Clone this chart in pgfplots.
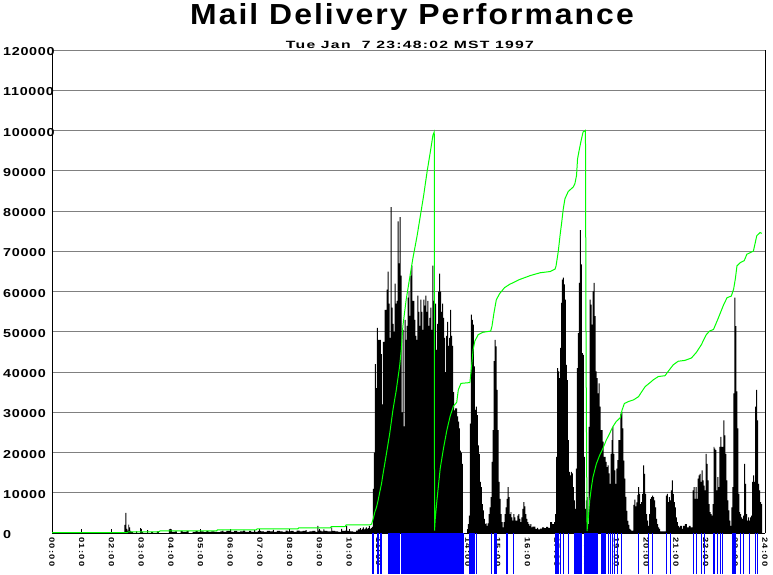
\documentclass[border=0pt]{standalone}
\usepackage{fontspec}
\setmainfont{Liberation Sans}
\newfontfamily\titlefont{Liberation Sans}[FakeStretch=1.1,LetterSpace=7]
\newfontfamily\subfont{Liberation Sans}[FakeStretch=1.5,LetterSpace=12]
\newfontfamily\yfont{Liberation Sans}[FakeStretch=1.25,LetterSpace=6]
\newfontfamily\xfont{Liberation Sans}[FakeStretch=1.25,LetterSpace=18]
\usepackage{pgfplots}
\usepackage{pgfplotstable}
\pgfplotsset{compat=1.18}
\definecolor{lgreen}{RGB}{0,255,0}
\definecolor{pblue}{RGB}{0,0,255}
\definecolor{gridgray}{RGB}{128,128,128}
% messages per 2-minute bin (bin 0 = 00:00, bin 720 = 24:00)
\pgfplotstableread{
bin n
0 0
73 2000
74 5000
75 1000
76 600
77 2100
78 1400
79 500
80 300
82 0
85 400
86 0
89 1200
90 300
92 0
96 700
97 0
100 300
102 0
106 400
108 0
118 900
119 1000
120 900
121 300
124 400
126 0
130 500
132 300
136 500
138 0
142 300
145 500
147 300
150 400
153 200
156 500
158 300
161 400
164 300
167 200
170 400
172 600
173 300
176 500
180 900
181 300
184 500
187 300
190 400
193 600
195 300
199 500
201 300
204 700
205 300
208 500
211 400
214 300
217 500
220 400
223 800
224 300
227 500
230 400
233 300
236 600
238 400
241 500
244 300
247 600
250 400
253 500
256 700
257 300
260 400
263 500
266 300
268 1800
269 600
272 400
274 900
275 500
278 400
282 1400
283 500
286 400
289 300
292 1000
293 500
296 600
297 1800
298 500
301 400
304 300
307 600
309 900
311 1200
312 800
313 1000
314 1400
315 900
316 1100
317 1400
318 1000
319 1200
320 1800
321 1000
322 1200
323 1500
324 11000
325 20000
326 42000
327 36000
328 51000
329 48000
330 48000
331 48000
332 44500
333 32000
334 47500
335 47500
336 55500
337 55500
338 60500
339 65000
340 57000
341 48500
342 81000
343 56000
344 52000
345 50000
346 62000
347 57000
348 57700
349 77500
350 67000
351 78500
352 64000
353 30000
354 50500
355 26500
356 53000
357 48000
358 51500
359 58500
360 60000
361 54000
362 64000
363 66500
364 57700
366 53000
367 49000
368 48000
369 59000
370 55000
371 51500
372 58000
373 55000
374 50500
375 58000
376 56500
377 59000
378 55000
379 57700
380 51500
381 53500
382 56000
383 50500
384 66500
385 57700
386 45500
387 57000
388 45500
389 52000
390 60000
391 64500
392 60000
393 55000
394 57000
395 53500
396 48500
397 40000
398 49000
399 52500
400 46500
401 48500
402 55500
403 49000
404 46500
405 35000
406 30500
407 31000
408 31000
409 29000
410 27700
411 26000
412 20500
413 20000
414 17200
415 0
420 2200
421 4300
422 27200
423 54300
424 53000
425 51800
426 41400
427 30600
428 31400
429 29300
430 21800
431 19700
432 12700
433 11400
434 7200
435 5600
436 3500
437 2200
438 2400
439 1800
440 2400
441 4700
442 6400
443 8900
444 17700
445 25600
446 42700
447 48000
448 46400
449 35600
450 25600
451 12700
452 8500
453 4700
454 2700
455 1400
456 2700
457 4700
458 6400
459 8500
460 11400
461 8900
462 4700
463 5200
464 3900
465 3100
466 4700
467 3900
468 3100
470 4300
471 4700
472 3500
473 2700
474 3900
475 6000
476 7700
477 6600
478 4700
479 3500
480 2700
481 2200
482 1800
483 2200
484 1400
485 1600
488 1000
490 1300
491 900
493 1100
495 1400
497 1200
499 1500
501 1300
503 2700
505 2200
507 2700
508 4700
509 18900
510 41000
511 40200
512 38500
513 46000
514 57200
515 63000
516 63500
517 61800
518 58000
519 41800
520 38000
521 23100
522 15200
523 14300
524 15200
525 14800
526 11400
527 8100
528 6000
529 16000
530 41000
531 49700
532 62200
533 75300
534 66800
535 44700
536 44300
537 18900
538 6000
539 8100
540 8900
541 2200
542 26400
543 58000
544 56800
545 51800
546 60100
547 62200
548 53900
549 40200
550 38500
551 34700
552 37200
553 31400
554 25600
555 25600
556 22700
557 18900
558 18900
559 17700
560 16400
561 16800
562 14800
563 12200
564 19700
565 23100
566 26400
567 19700
568 15600
569 12200
570 16000
571 18100
572 23100
574 29700
575 30000
576 26000
577 18000
578 13500
579 9000
580 5500
581 3000
582 2000
583 1000
584 800
585 500
586 600
587 7000
588 8300
589 6600
590 7600
591 9500
592 11400
593 9700
594 7200
595 7700
596 9700
597 16800
598 14700
599 9700
600 4700
601 3100
602 1800
603 4700
604 8500
605 8900
606 9300
607 8900
608 8100
609 6400
610 3500
611 2200
612 1400
613 1000
614 400
620 9300
621 9700
622 7700
623 8900
624 8100
625 10600
626 13100
627 9700
628 7700
629 6400
630 3900
631 2700
632 1800
633 1400
634 1800
636 1000
637 1800
639 2200
641 1400
643 1800
645 1400
647 10600
648 11400
649 8500
650 11400
651 8500
652 13500
653 14300
654 14700
655 12700
656 15600
657 13100
658 11800
659 10600
660 19700
661 17200
662 13100
663 7200
664 5200
665 4700
666 4300
667 7200
668 21400
669 21000
670 20600
671 10600
672 13900
673 11400
674 21400
675 23900
676 21400
678 28000
679 24300
680 19700
681 13100
682 8100
683 5600
684 3100
685 1800
686 6400
687 11400
688 34700
689 58500
690 51400
691 35200
692 26000
693 9700
694 5200
695 4700
696 3900
697 3500
698 4300
699 17200
700 12200
701 4700
702 3100
703 3900
704 3100
705 3900
706 4300
707 12700
708 14300
709 12700
710 31400
711 35600
712 28000
713 12200
714 10600
715 7700
716 7200
717 0
720 0
}\hist
\begin{document}
\begin{tikzpicture}
\begin{axis}[
  set layers,
  at={(0pt,0pt)}, anchor=south west,
  scale only axis, width=713pt, height=482.7pt,
  xmin=0, xmax=720, ymin=0, ymax=120000,
  clip=false,
  axis lines*=left,
  axis line style={black, line width=1pt},
  xtick={0,30,...,720},
  xticklabels={00:00,01:00,02:00,03:00,04:00,05:00,06:00,07:00,08:00,09:00,10:00,11:00,12:00,13:00,14:00,15:00,16:00,17:00,18:00,19:00,20:00,21:00,22:00,23:00,24:00},
  ytick={0,10000,20000,30000,40000,50000,60000,70000,80000,90000,100000,110000,120000},
  yticklabels={0,10000,20000,30000,40000,50000,60000,70000,80000,90000,100000,110000,120000},
  ymajorgrids, major grid style={gridgray, line width=1pt},
  tick align=inside, major tick length=4.5pt,
  xtick style={black, line width=1pt},
  ytick style={draw=none},
  xticklabel style={font=\xfont\bfseries\fontsize{7.5}{8}\selectfont, rotate=-90, anchor=west, inner sep=0pt, xshift=4pt},
  yticklabel style={font=\yfont\bfseries\fontsize{11.5}{12}\selectfont, anchor=west, inner sep=0pt, xshift=-49pt, yshift=-1.5pt},
  scaled y ticks=false,
]
\addplot[fill=black, draw=none, const plot mark left] table[x=bin, y=n] {\hist} \closedcycle;
\addplot[lgreen, line width=1pt] coordinates {
(0,100) (76,100) (77,300) (108,300) (109,500) (166,500) (167,750) (206,750) (207,1000) (248,1000) (249,1250) (281,1250) (282,1600) (296,1600) (297,2000) (321,2000)
(322.7,2200) (324.3,3500) (326,5200) (327.7,6400) (329.3,8100) (331,10200) (332.7,12200) (334.3,14700) (337.7,19700) (341,24700) (344.3,30600) (347.7,35600) (351,41400) (352.7,45600) (354.3,51400) (357.7,58100) (361,63100) (364.3,68100) (368.7,73900) (372,78900) (375.3,83900) (378.7,89700) (382,94700) (384.7,98900) (386,99700) (386.3,600) (387,3500) (388.7,8100) (392,16000) (395.3,21000) (398.7,25500) (402,29000) (405.3,31500) (408.7,32500) (410.3,35600) (413,37200) (422,37400) (423.7,41400) (425.3,45600) (427,47700) (430.3,49300) (435.3,49900) (443,50200) (444.3,51400) (446.3,54700) (448.7,58000) (452,59500) (457,61000) (462,61800) (472,63000) (483,64000) (493,64700) (503,65000) (508,65600) (509,66400) (511.3,70100) (513,73900) (514.7,77200) (516.3,80600) (518,83100) (521.3,84900) (526.3,86000) (528,86800) (529.7,88900) (530.7,93000) (532.3,95100) (533.7,96800) (534.7,98000) (536.3,99700) (538.7,100100) (539.3,44700) (540.3,500) (541.3,3100) (543,8100) (544.7,11400) (546.3,13900) (549.7,17200) (553,19300) (556.3,21000) (559.7,23100) (563,24700) (566.3,26400) (569.7,27700) (574,28700) (575.7,30600) (578,32200) (582.3,32700) (587.3,33100) (592.3,33900) (595.7,35200) (599,36400) (604,37400) (607.3,38100) (612.3,38900) (619,39100) (622.3,40200) (627.3,41800) (632.3,42700) (639,42900) (645.7,43500) (650.7,44900) (655.7,46800) (660.7,49300) (664,50200) (668,50600) (672.3,53100) (678.3,56800) (681.7,58500) (686,58900) (688.3,60600) (690,63100) (691.7,66400) (695,67200) (699,67700) (701.7,69300) (705,69700) (708.3,70100) (711.7,73900) (715,74700) (716.7,74500)
};
% delivery events below the time axis
\addplot[pblue, line width=1pt, ycomb] coordinates {
(324,-10200) (324.8,-10200) (328.7,-10200) (330,-10200) (332,-10200) (333,-10200)
(428.7,-10200) (444,-10200) (458.7,-10200) (459.7,-10200) (466.3,-10200)
(513,-10200) (516.3,-10200) (521.3,-10200) (562,-10200) (564,-10200) (565.7,-10200) (568,-10200) (571.3,-10200) (575,-10200) (592.3,-10200) (602.3,-10200) (606.7,-10200)
(620.7,-10200) (625,-10200) (647.3,-10200) (650.7,-10200) (655.7,-10200) (659,-10200) (672.3,-10200) (674.7,-10200) (676.7,-10200) (695,-10200) (698.3,-10200) (704.3,-10200) (710,-10200) (712.3,-10200)
};
\addplot[fill=pblue, draw=none] coordinates {(339.6,-10200) (351.7,-10200)} \closedcycle;
\addplot[fill=pblue, draw=none] coordinates {(352.5,-10200) (416.3,-10200)} \closedcycle;
\addplot[fill=pblue, draw=none] coordinates {(420.6,-10200) (427.2,-10200)} \closedcycle;
\addplot[fill=pblue, draw=none] coordinates {(446.3,-10200) (449,-10200)} \closedcycle;
\addplot[fill=pblue, draw=none] coordinates {(507.6,-10200) (511.6,-10200)} \closedcycle;
\addplot[fill=pblue, draw=none] coordinates {(527.6,-10200) (535.6,-10200)} \closedcycle;
\addplot[fill=pblue, draw=none] coordinates {(537.6,-10200) (541,-10200)} \closedcycle;
\addplot[fill=pblue, draw=none] coordinates {(541.6,-10200) (551.6,-10200)} \closedcycle;
\addplot[fill=pblue, draw=none] coordinates {(554.3,-10200) (559,-10200)} \closedcycle;
\addplot[fill=pblue, draw=none] coordinates {(667,-10200) (670,-10200)} \closedcycle;
\addplot[fill=pblue, draw=none] coordinates {(686.3,-10200) (690.6,-10200)} \closedcycle;
\draw[black, line width=1pt] (rel axis cs:1,0) -- (rel axis cs:1,1);
\end{axis}
\node[anchor=base, font=\titlefont\bfseries\fontsize{29}{30}\selectfont] at (360pt,508pt) {Mail Delivery Performance};
\node[anchor=base, font=\subfont\bfseries\fontsize{10.5}{11}\selectfont] at (358pt,484.3pt) {Tue Jan\ \ 7 23:48:02 MST 1997};
\pgfresetboundingbox
\path[use as bounding box] (-52pt,-41pt) rectangle (721pt,533pt);
\end{tikzpicture}
\end{document}
